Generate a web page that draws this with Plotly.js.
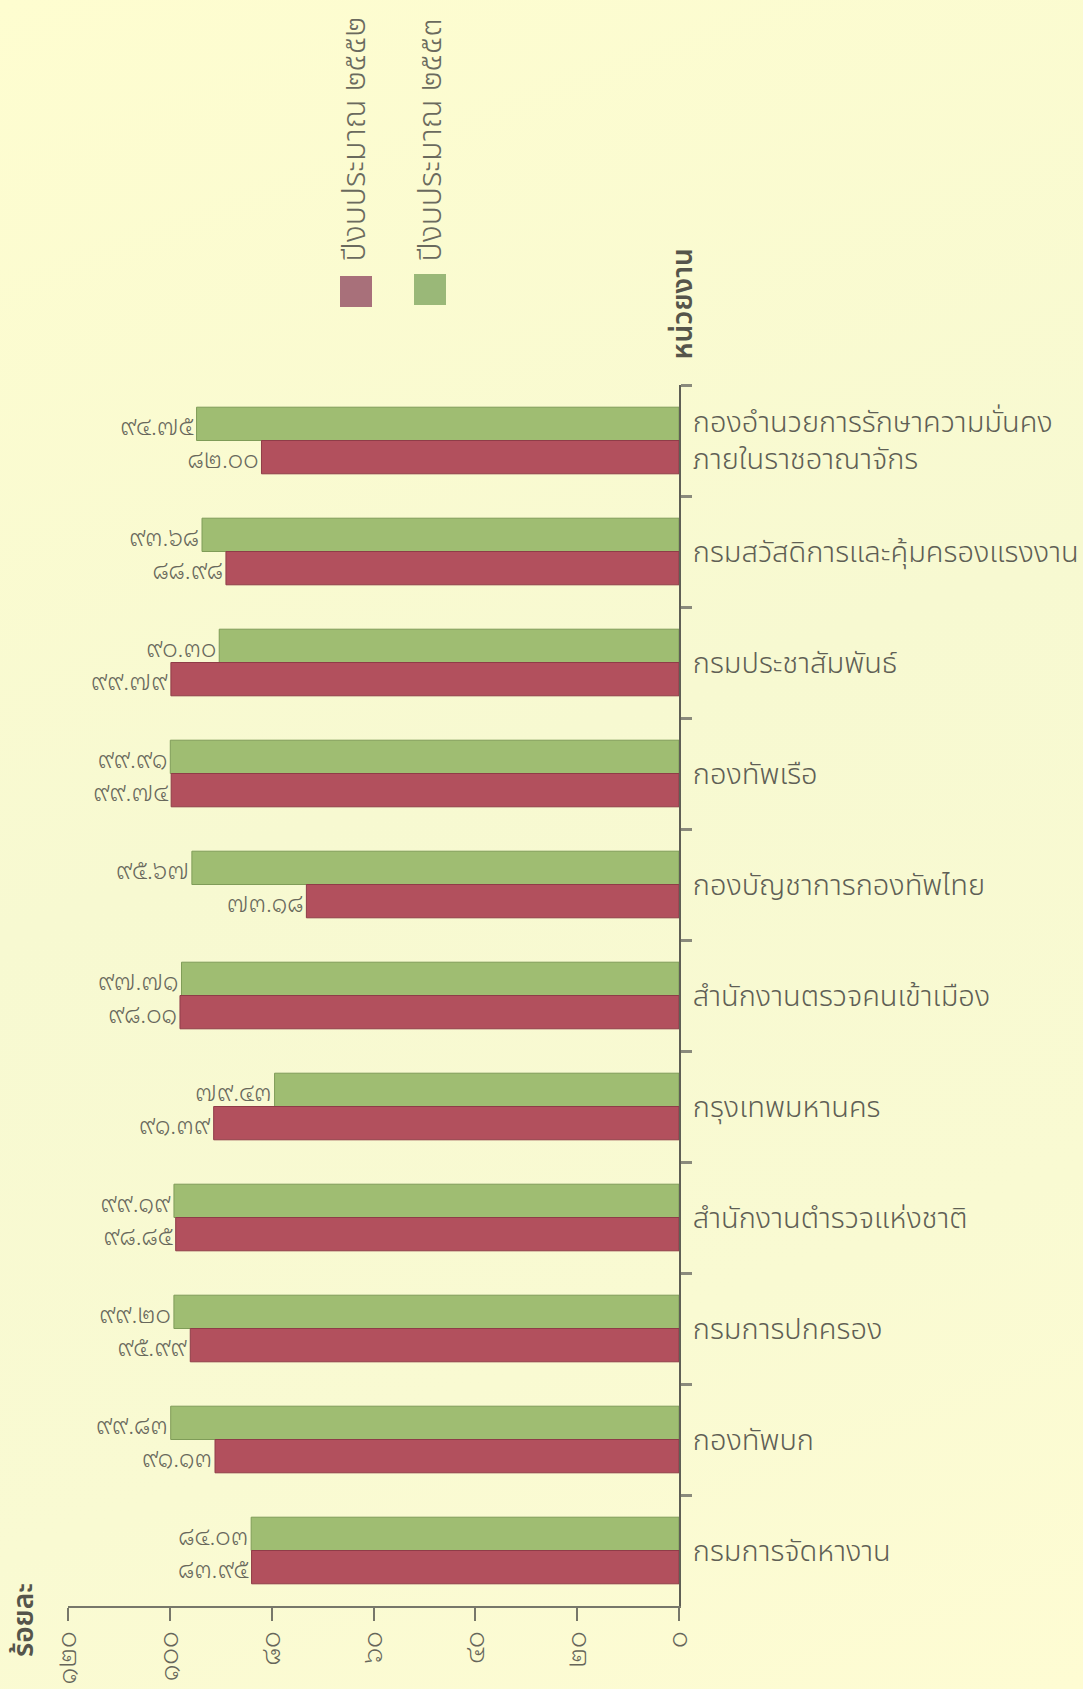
<!DOCTYPE html>
<html>
<head>
<meta charset="utf-8">
<script src="https://cdn.plot.ly/plotly-3.0.1.min.js"></script>
<style>
  html, body { margin: 0; padding: 0; }
  body { width: 1083px; height: 1689px; background: linear-gradient(160deg, #fefdd0 0%, #f7f9d1 45%, #f9fad2 75%, #fefcd3 100%); }
  #chart { width: 1083px; height: 1689px; }
</style>
</head>
<body>
<div id="chart"></div>
<script>
const categories = [
  'กองอำนวยการรักษาความมั่นคง<br>ภายในราชอาณาจักร',
  'กรมสวัสดิการและคุ้มครองแรงงาน',
  'กรมประชาสัมพันธ์',
  'กองทัพเรือ',
  'กองบัญชาการกองทัพไทย',
  'สำนักงานตรวจคนเข้าเมือง',
  'กรุงเทพมหานคร',
  'สำนักงานตำรวจแห่งชาติ',
  'กรมการปกครอง',
  'กองทัพบก',
  'กรมการจัดหางาน'
];
const budget2552 = [82.00, 88.98, 99.79, 99.74, 73.18, 98.01, 91.39, 98.85, 95.99, 91.13, 83.95];
const budget2553 = [94.75, 93.68, 90.30, 99.91, 95.67, 97.71, 79.43, 99.19, 99.20, 99.83, 84.03];
const seriesNames = ['ปีงบประมาณ ๒๕๕๒', 'ปีงบประมาณ ๒๕๕๓'];
const xTickVals = [0, 20, 40, 60, 80, 100, 120];
const xTitle = 'ร้อยละ';
const yTitle = 'หน่วยงาน';

const thaiDigits = '๐๑๒๓๔๕๖๗๘๙';
function toThai(s) { return String(s).replace(/[0-9]/g, d => thaiDigits[+d]); }

const FONT = "'Noto Sans Thai', Loma, Garuda, Sarabun, 'Noto Sans', 'DejaVu Sans', sans-serif";
const NUMFONT = "'Noto Sans Thai Looped', 'Noto Serif Thai', 'Noto Sans Thai', Loma, sans-serif";
const RED = '#b2505d';
const GREEN = '#9fbd72';
const TXT = '#5f5f55';

const trGreen = {
  type: 'bar', orientation: 'h', name: seriesNames[1],
  y: categories, x: budget2553,
  text: budget2553.map(v => toThai(v.toFixed(2))),
  textposition: 'outside', cliponaxis: false, constraintext: 'none',
  textfont: { family: NUMFONT, size: 24, weight: 300, color: '#68685c' },
  marker: { color: GREEN, line: { color: '#7f9c58', width: 1 } },
  hoverinfo: 'x+name'
};
const trRed = {
  type: 'bar', orientation: 'h', name: seriesNames[0],
  y: categories, x: budget2552,
  text: budget2552.map(v => toThai(v.toFixed(2))),
  textposition: 'outside', cliponaxis: false, constraintext: 'none',
  textfont: { family: NUMFONT, size: 24, weight: 300, color: '#68685c' },
  marker: { color: RED, line: { color: '#8f3c48', width: 1 } },
  hoverinfo: 'x+name'
};

// plot area pixel geometry
const L = 68, R = 679, T = 385, B = 1606;
const W = 1083, H = 1689;
const px = x => (x - L) / (R - L);
const py = y => (B - y) / (B - T);

const layout = {
  width: W, height: H,
  margin: { l: L, r: W - R, t: T, b: H - B, pad: 0 },
  paper_bgcolor: 'rgba(0,0,0,0)',
  plot_bgcolor: 'rgba(0,0,0,0)',
  barmode: 'group',
  bargap: 0.40,
  bargroupgap: 0,
  showlegend: false,
  font: { family: FONT, color: TXT },
  xaxis: {
    range: [120, 0],
    tickvals: xTickVals,
    ticktext: xTickVals.map(toThai),
    tickangle: -90,
    tickfont: { family: NUMFONT, size: 26, weight: 300, color: '#66665a' },
    showgrid: false, zeroline: false,
    showline: true, linecolor: '#77776a', linewidth: 2,
    ticks: 'outside', ticklen: 13, tickwidth: 2, tickcolor: '#77776a'
  },
  yaxis: {
    type: 'category',
    categoryorder: 'array', categoryarray: categories,
    range: [10.5, -0.5],
    side: 'right',
    tickson: 'boundaries',
    ticks: 'outside', ticklen: 11, tickwidth: 3, tickcolor: '#8a8a7c',
    ticklabelstandoff: 6,
    showline: true, linecolor: '#5f5f55', linewidth: 2,
    showgrid: false, zeroline: false,
    tickfont: { family: FONT, size: 29, weight: 300, color: TXT }
  },
  shapes: [
    { type: 'rect', xref: 'paper', yref: 'paper', x0: px(340), x1: px(372), y0: py(307), y1: py(276), fillcolor: '#a8707a', line: { width: 0 } },
    { type: 'rect', xref: 'paper', yref: 'paper', x0: px(414), x1: px(446), y0: py(305), y1: py(274), fillcolor: '#9ab878', line: { width: 0 } }
  ],
  annotations: [
    { xref: 'paper', yref: 'paper', x: px(355), y: py(264), xanchor: 'center', yanchor: 'bottom', textangle: -90,
      text: seriesNames[0], showarrow: false, font: { family: FONT, size: 32, weight: 300, color: '#6a6a5e' } },
    { xref: 'paper', yref: 'paper', x: px(431), y: py(264), xanchor: 'center', yanchor: 'bottom', textangle: -90,
      text: seriesNames[1], showarrow: false, font: { family: FONT, size: 32, weight: 300, color: '#6a6a5e' } },
    { xref: 'paper', yref: 'paper', x: px(683), y: py(362), xanchor: 'center', yanchor: 'bottom', textangle: -90,
      text: yTitle, showarrow: false, font: { family: FONT, size: 28, weight: 600, color: '#55554b' } },
    { xref: 'paper', yref: 'paper', x: px(24), y: py(1620), xanchor: 'center', yanchor: 'middle', textangle: -90,
      text: xTitle, showarrow: false, font: { family: FONT, size: 28, weight: 600, color: '#55554b' } }
  ]
};

Plotly.newPlot('chart', [trGreen, trRed], layout, { displayModeBar: false, responsive: false });
</script>
</body>
</html>
